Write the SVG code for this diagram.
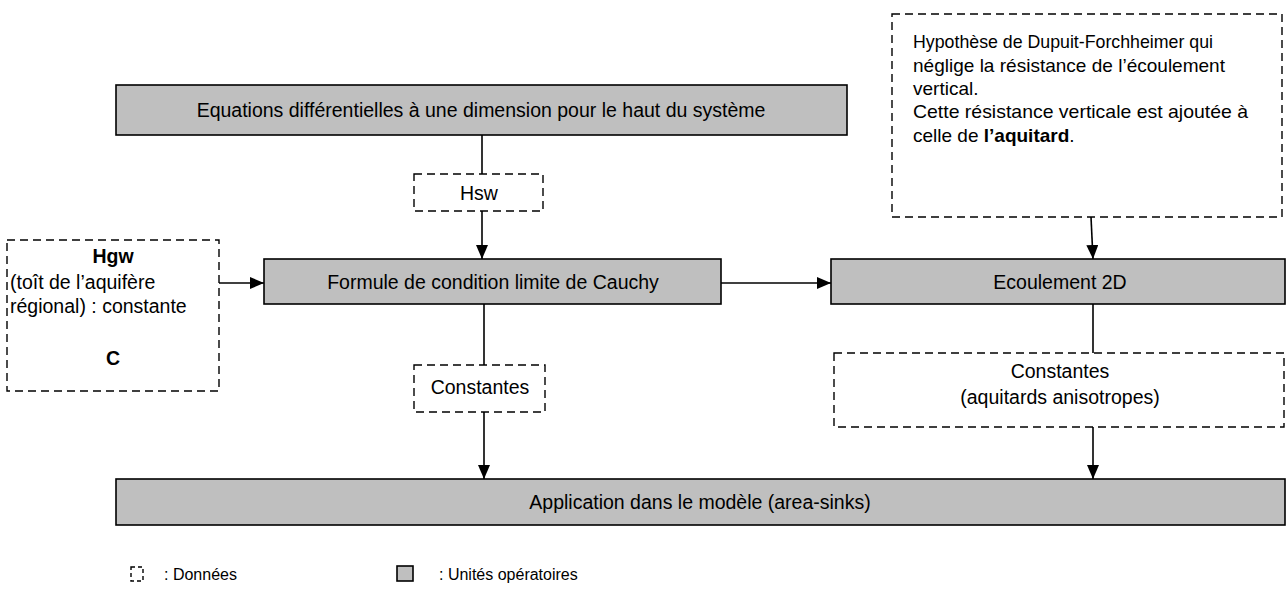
<svg xmlns="http://www.w3.org/2000/svg" width="1287" height="613" viewBox="0 0 1287 613">
  <defs>
    <marker id="arrow" viewBox="0 0 14 12" refX="14" refY="6" markerWidth="14" markerHeight="12" markerUnits="userSpaceOnUse" orient="auto">
      <path d="M0,0 L14,6 L0,12 Z" fill="#000"/>
    </marker>
    <style>
      .unit { fill: #bfbfbf; stroke: #000; stroke-width: 1.6; }
      .data { fill: #fff; stroke: #000; stroke-width: 1.4; stroke-dasharray: 8 5; }
      .link { fill: none; stroke: #000; stroke-width: 1.6; }
      .arr { marker-end: url(#arrow); }
      text { font-family: "Liberation Sans", Arial, sans-serif; font-size: 19.5px; fill: #000; }
      .c { text-anchor: middle; }
      .b { font-weight: bold; }
      .note { font-size: 19px; }
      .sm { font-size: 16px; }
    </style>
  </defs>
  <rect width="1287" height="613" fill="#fff"/>

  <!-- connectors -->
  <g id="connectors">
    <line class="link" x1="482" y1="135" x2="482" y2="174"/>
    <line class="link arr" x1="482" y1="211" x2="482" y2="259"/>
    <line class="link arr" x1="219" y1="283" x2="264" y2="283"/>
    <line class="link arr" x1="721" y1="283" x2="831" y2="283"/>
    <line class="link arr" x1="1091" y1="217" x2="1093" y2="259"/>
    <line class="link" x1="484" y1="304" x2="484" y2="365"/>
    <line class="link arr" x1="484" y1="412" x2="484" y2="479"/>
    <line class="link" x1="1093" y1="304" x2="1093" y2="353"/>
    <line class="link arr" x1="1093" y1="427" x2="1093" y2="479"/>
  </g>

  <!-- operating units -->
  <g id="equations">
    <rect class="unit" x="116" y="85" width="731" height="50"/>
    <text class="c" x="481" y="117">Equations différentielles à une dimension pour le haut du système</text>
  </g>
  <g id="cauchy">
    <rect class="unit" x="264" y="259" width="457" height="45"/>
    <text class="c" x="493" y="289">Formule de condition limite de Cauchy</text>
  </g>
  <g id="ecoulement">
    <rect class="unit" x="831" y="259" width="454" height="45"/>
    <text class="c" x="1060" y="289">Ecoulement 2D</text>
  </g>
  <g id="application">
    <rect class="unit" x="116" y="479" width="1169" height="46"/>
    <text class="c" x="700" y="509">Application dans le modèle (area-sinks)</text>
  </g>

  <!-- data -->
  <g id="hsw">
    <rect class="data" x="414" y="174" width="129" height="37"/>
    <text class="c" x="479" y="200">Hsw</text>
  </g>
  <g id="hgw">
    <rect class="data" x="7" y="240" width="212" height="151"/>
    <text class="c b" x="113" y="263">Hgw</text>
    <text x="10" y="289">(toît de l’aquifère</text>
    <text x="10" y="313">régional) : constante</text>
    <text class="c b" x="113" y="365">C</text>
  </g>
  <g id="dupuit">
    <rect class="data" x="892" y="14" width="390" height="203"/>
    <text class="note" x="913" y="48" textLength="300" lengthAdjust="spacingAndGlyphs">Hypothèse de Dupuit-Forchheimer qui</text>
    <text class="note" x="913" y="72" textLength="312" lengthAdjust="spacingAndGlyphs">néglige la résistance de l’écoulement</text>
    <text class="note" x="913" y="95">vertical.</text>
    <text class="note" x="913" y="118" textLength="335" lengthAdjust="spacingAndGlyphs">Cette résistance verticale est ajoutée à</text>
    <text class="note" x="913" y="142">celle de <tspan class="b">l’aquitard</tspan>.</text>
  </g>
  <g id="constantes-cauchy">
    <rect class="data" x="414" y="365" width="131" height="47"/>
    <text class="c" x="480" y="394">Constantes</text>
  </g>
  <g id="constantes-aquitards">
    <rect class="data" x="834" y="353" width="450" height="74"/>
    <text class="c" x="1060" y="378">Constantes</text>
    <text class="c" x="1060" y="404">(aquitards anisotropes)</text>
  </g>

  <!-- legend -->
  <g id="legend">
    <rect class="data" x="131" y="567" width="12" height="14" style="stroke-dasharray: 4 3"/>
    <text x="164" y="580" class="sm">: Données</text>
    <rect class="unit" x="397" y="566" width="16" height="15"/>
    <text x="439" y="580" class="sm">: Unités opératoires</text>
  </g>
</svg>
